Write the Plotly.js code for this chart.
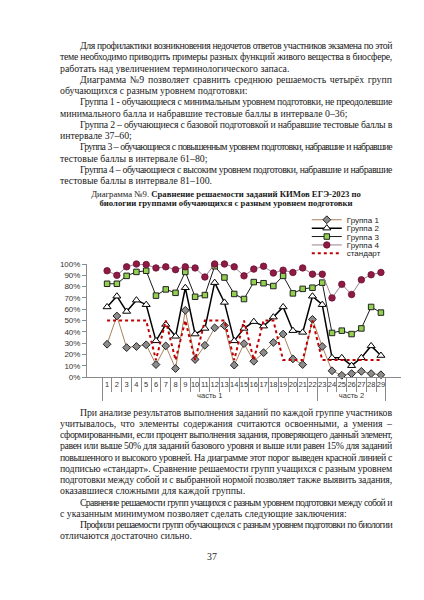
<!DOCTYPE html>
<html>
<head>
<meta charset="utf-8">
<script src="https://cdn.plot.ly/plotly-3.0.1.min.js"></script>
<style>
body { margin:0; background:#fff; }
#page { position:relative; width:424px; height:600px; background:#fff; overflow:hidden;
        font-family:"Liberation Serif","Times New Roman",serif; font-size:9.8px; color:#1a1a1a; }
.blk { position:absolute; left:60px; width:332px; line-height:11.25px; }
.blk div { height:11.25px; white-space:nowrap; box-sizing:border-box; }
.blk div.j { display:flex; justify-content:space-between; }
.blk div span { white-space:nowrap; flex:none; }
.in { padding-left:20px; }
.cap { position:absolute; left:40px; width:372px; text-align:center; line-height:9.8px; font-size:8.7px; }
#chart { position:absolute; left:0; top:200px; width:424px; height:212px; }
#pg { position:absolute; left:0; width:424px; top:551px; text-align:center; }
</style>
</head>
<body>
<div id="page">
  <div class="blk" style="top:40px">
    <div class="j in">Для профилактики возникновения недочетов ответов участников экзамена по этой</div>
    <div class="j">теме необходимо приводить примеры разных функций живого вещества в биосфере,</div>
    <div>работать над увеличением терминологического запаса.</div>
    <div class="j in">Диаграмма №9 позволяет сравнить среднюю решаемость четырёх групп</div>
    <div>обучающихся с разным уровнем подготовки:</div>
    <div class="j in">Группа 1 - обучающиеся с минимальным уровнем подготовки, не преодолевшие</div>
    <div>минимального балла и набравшие тестовые баллы в интервале 0–36;</div>
    <div class="j in">Группа 2 – обучающиеся с базовой подготовкой и набравшие тестовые баллы в</div>
    <div>интервале 37–60;</div>
    <div class="j in">Группа 3 – обучающиеся с повышенным уровнем подготовки, набравшие и набравшие</div>
    <div>тестовые баллы в интервале 61–80;</div>
    <div class="j in">Группа 4 – обучающиеся с высоким уровнем подготовки, набравшие и набравшие</div>
    <div>тестовые баллы в интервале 81–100.</div>
  </div>
  <div class="cap" style="top:189.6px">
    <div>Диаграмма №9. <b>Сравнение решаемости заданий КИМов ЕГЭ-2023 по</b></div>
    <div><b>биологии группами обучающихся с разным уровнем подготовки</b></div>
  </div>
  <div id="chart"></div>
  <div class="blk" style="top:406.5px">
    <div class="j in">При анализе результатов выполнения заданий по каждой группе участников</div>
    <div class="j">учитывалось, что элементы содержания считаются освоенными, а умения –</div>
    <div class="j">сформированными, если процент выполнения задания, проверяющего данный элемент,</div>
    <div class="j">равен или выше 50% для заданий базового уровня и выше или равен 15% для заданий</div>
    <div class="j">повышенного и высокого уровней. На диаграмме этот порог выведен красной линией с</div>
    <div class="j">подписью «стандарт». Сравнение решаемости групп учащихся с разным уровнем</div>
    <div class="j">подготовки между собой и с выбранной нормой позволяет также выявить задания,</div>
    <div>оказавшиеся сложными для каждой группы.</div>
    <div class="j in">Сравнение решаемости групп учащихся с разным уровнем подготовки между собой и</div>
    <div>с указанным минимумом позволяет сделать следующие заключения:</div>
    <div class="j in">Профили решаемости групп обучающихся с разным уровнем подготовки по биологии</div>
    <div>отличаются достаточно сильно.</div>
  </div>
  <div id="pg">37</div>
</div>
<script>
// номера заданий и части работы
var tasks = ['1','2','3','4','5','6','7','8','9','10','11','12','13','14','15',
             '16','17','18','19','20','21','22','23','24','25','26','27','28','29'];
var partNames = ['часть 1', 'часть 2'];
var lastTaskPart1 = 22;

// решаемость, %
var group1 = [29, 54, 26, 27, 28.5, 11, 27.5, 7.5, 59, 15.5, 28, 43.5, 45.5, 10.5, 29.5,
              14, 21.5, 30.5, 38, 16, 11, 51, 27, 5.5, 1.5, 3, 5, 3, 2];
var group2 = [62, 71.5, 58, 68, 64, 32, 46.5, 36, 79, 38, 43, 83.5, 66, 32, 43,
              49, 45, 53, 62, 41, 39.5, 71.5, 64, 17, 17, 10, 17, 27.5, 19];
var group3 = [82.5, 82.5, 89.5, 93, 94, 72, 77.5, 74.5, 93, 71, 72.5, 98, 88, 73.5, 69,
              84, 83, 80.5, 89.5, 74, 78, 79, 83.5, 39, 41, 38, 43, 62, 57];
var group4 = [94, 90, 97.5, 100, 99.5, 96.5, 97.5, 95, 97.5, 96.5, 88.5, 100, 100, 97.5, 89.5,
              95.5, 98, 92, 94.5, 92.5, 96.5, 91, 91, 70, 82, 73, 86, 90.5, 92.5];
var standard = [50, 50, 50, 50, 50, 15, 50, 15, 50, 15, 50, 50, 50, 15, 50,
                15, 50, 50, 15, 15, 15, 50, 15, 15, 15, 15, 15, 15, 15];

// строки по ширине: слова раскладываем флексом, длинные строки чуть сжимаем
function fitLines()
{
    var ctx = document.createElement('canvas').getContext('2d');
    ctx.font = '9.8px "Liberation Serif"';
    var minGap = 2.2;
    var lines = document.querySelectorAll('.blk div');
    for (var iii = 0; iii < lines.length; iii++)
    {
        var div = lines[iii];
        var txt = div.textContent;
        var avail = 332 - (div.classList.contains('in') ? 20 : 0) - 1;
        var words = txt.split(' ');
        var w = 0;
        for (var k = 0; k < words.length; k++) w += ctx.measureText(words[k]).width;
        w += (words.length - 1) * minGap;
        var ls = 0;
        if (w > avail) ls = (avail - w) / txt.replace(/ /g, '').length;
        div.style.letterSpacing = ls ? ls + 'px' : '';
        if (div.classList.contains('j'))
        {
            div.innerHTML = '';
            for (k = 0; k < words.length; k++)
            {
                var s = document.createElement('span');
                s.textContent = words[k];
                div.appendChild(s);
            }
        }
    }
}
fitLines();

var parts = [];
for (var iii = 0; iii < tasks.length; iii++)
{
    parts.push(Number(tasks[iii]) <= lastTaskPart1 ? partNames[0] : partNames[1]);
}
var xCats = [parts, tasks];

var axisFont = {family: '"Liberation Sans Narrow", "Liberation Sans", Arial, sans-serif', size: 8, color: '#333'};
var gridGrey = '#8a8a8a';

var trace1 = {
    x: xCats, y: group1, name: 'Группа 1', type: 'scatter', mode: 'lines+markers', cliponaxis: false,
    line: {color: '#a8825f', width: 1},
    marker: {symbol: 'diamond', size: 6, color: '#8c8c8c', line: {color: '#222', width: 1}}
};
var trace2 = {
    x: xCats, y: group2, name: 'Группа 2', type: 'scatter', mode: 'lines+markers', cliponaxis: false,
    line: {color: '#000', width: 1.5},
    marker: {symbol: 'triangle-up', size: 7, color: '#fff', line: {color: '#000', width: 1}}
};
var trace3 = {
    x: xCats, y: group3, name: 'Группа 3', type: 'scatter', mode: 'lines+markers', cliponaxis: false,
    line: {color: '#1a1a1a', width: 1},
    marker: {symbol: 'square', size: 5.5, color: '#92d050', line: {color: '#222', width: 1}}
};
var trace4 = {
    x: xCats, y: group4, name: 'Группа 4', type: 'scatter', mode: 'lines+markers', cliponaxis: false,
    line: {color: '#9a8090', width: 1},
    marker: {symbol: 'circle', size: 6.5, color: '#8e1a45', line: {color: '#6a1030', width: 0.8}}
};
var trace5 = {
    x: xCats, y: standard, name: 'стандарт', type: 'scatter', mode: 'lines', cliponaxis: false,
    line: {color: '#c00000', width: 2, dash: 'dot'}
};

var layout = {
    width: 424,
    height: 212,
    margin: {l: 87, r: 23, t: 64, b: 35, autoexpand: false},
    paper_bgcolor: 'rgba(0,0,0,0)',
    plot_bgcolor: 'rgba(0,0,0,0)',
    showlegend: true,
    legend: {
        x: 0.70, y: 1.52, xanchor: 'left', yanchor: 'top',
        bgcolor: 'rgba(0,0,0,0)', borderwidth: 0,
        font: {family: '"Liberation Sans", Arial, sans-serif', size: 8, color: '#222'}
    },
    xaxis: {
        type: 'multicategory',
        tickangle: 0,
        showline: true, linecolor: gridGrey, linewidth: 1,
        ticks: 'outside', ticklen: 14, tickcolor: gridGrey,
        showdividers: true, dividercolor: gridGrey, dividerwidth: 1,
        showgrid: false, zeroline: false,
        tickfont: {family: axisFont.family, size: 7.5, color: '#333'}
    },
    yaxis: {
        range: [0, 100], dtick: 10, ticksuffix: '%',
        showline: true, linecolor: gridGrey, linewidth: 1,
        ticks: 'outside', ticklen: 4, tickcolor: gridGrey,
        showgrid: false, zeroline: false,
        tickfont: axisFont
    }
};

var legendStep = 8.4;

Plotly.newPlot('chart', [trace1, trace2, trace3, trace4, trace5], layout,
    {displayModeBar: false, staticPlot: true}).then(function()
{
    // сжать легенду по высоте, как в Excel
    var items = document.querySelectorAll('#chart .legend .traces');
    var y0 = null;
    for (var iii = 0; iii < items.length; iii++)
    {
        var m = /translate\(\s*([-\d.e]+)[ ,]+([-\d.e]+)\s*\)/.exec(items[iii].getAttribute('transform'));
        if (!m) continue;
        if (y0 === null) y0 = parseFloat(m[2]);
        items[iii].setAttribute('transform', 'translate(' + m[1] + ',' + (y0 + iii * legendStep) + ')');
    }
});
</script>
</body>
</html>
